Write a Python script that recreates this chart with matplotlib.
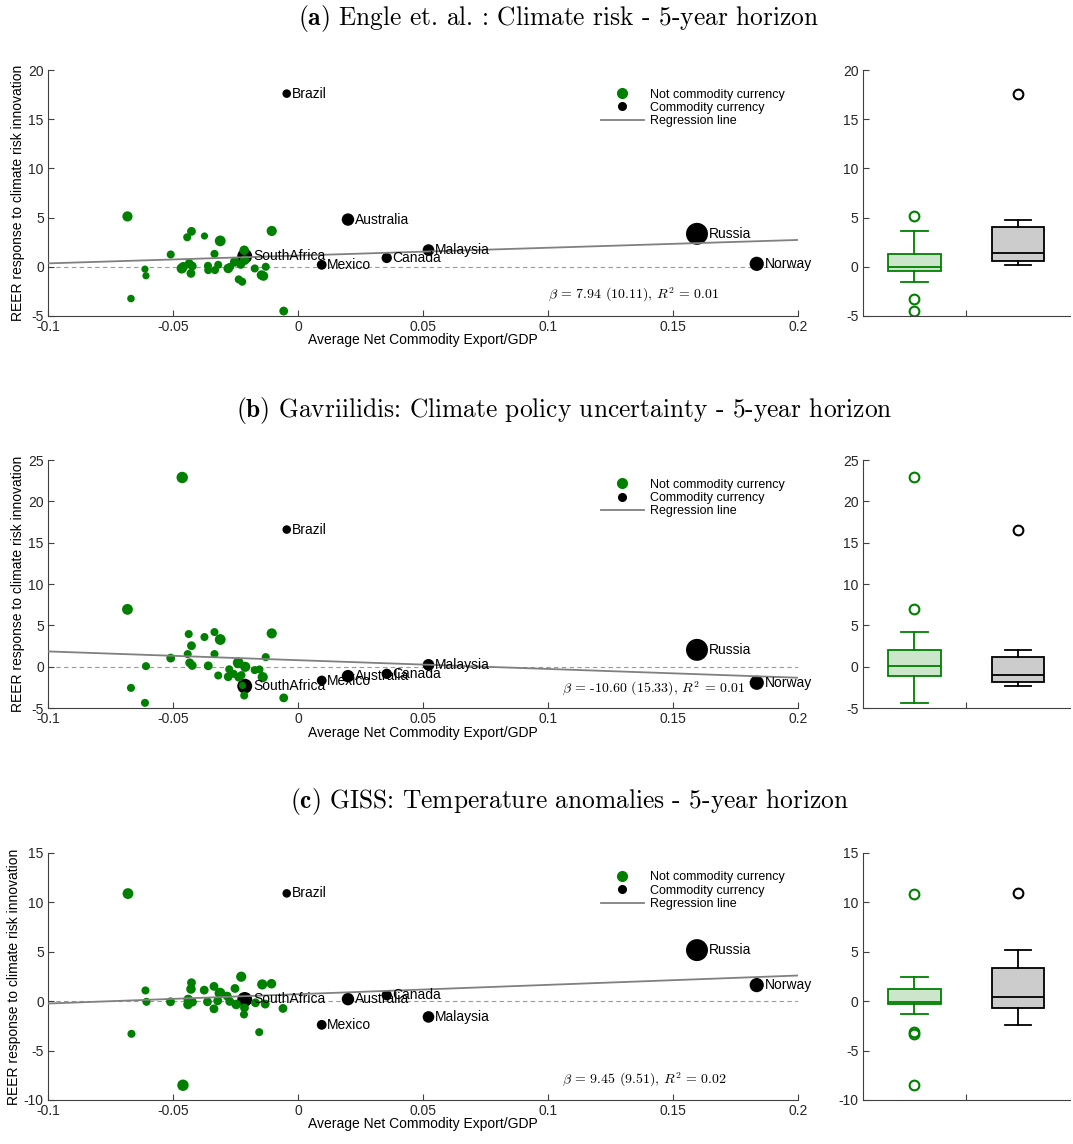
import numpy as np
import matplotlib
matplotlib.use('Agg')
import matplotlib.pyplot as plt
from matplotlib.lines import Line2D

plt.rcParams['font.family'] = ['Liberation Sans', 'DejaVu Sans']
plt.rcParams['mathtext.fontset'] = 'cm'
plt.rcParams['axes.unicode_minus'] = False

# commodity currencies (same x in every panel)
com_names = ['Brazil', 'SouthAfrica', 'Mexico', 'Australia', 'Canada', 'Malaysia', 'Russia', 'Norway']
com_x = [-0.0045, -0.0213, 0.0095, 0.0200, 0.0355, 0.0522, 0.1596, 0.1835]
com_s = [38, 115, 50, 80, 55, 70, 250, 105]

# (a) Engle et al.
a_com_y = [17.6, 1.08, 0.2, 4.8, 0.9, 1.7, 3.35, 0.3]
a_gx = [-0.0682, -0.0668, -0.0612, -0.0608, -0.0509, -0.0465, -0.0459, -0.0443, -0.0426, -0.0435, -0.0423,
        -0.0428, -0.0374, -0.0360, -0.0359, -0.0334, -0.0332, -0.0319, -0.0311, -0.0279, -0.0271, -0.0253,
        -0.0237, -0.0223, -0.0229, -0.0215, -0.0213, -0.0173, -0.0146, -0.0138, -0.0129, -0.0105, -0.0057]
a_gy = [5.12, -3.23, -0.24, -0.91, 1.25, -0.17, 0.0, 3.0, 3.6, 0.34, 0.07,
        -0.67, 3.13, 0.1, -0.34, 1.31, -0.34, 0.2, 2.63, -0.17, 0.0, 0.5,
        -1.28, -1.52, 0.24, 1.68, 0.67, -0.17, -0.84, -0.94, 0.0, 3.64, -4.5]
a_gs = [40, 22, 20, 20, 25, 40, 35, 25, 30, 30, 30,
        30, 20, 25, 25, 25, 25, 25, 45, 35, 25, 35,
        25, 25, 30, 35, 35, 25, 35, 35, 25, 40, 30]

# (b) Gavriilidis
b_com_y = [16.6, -2.34, -1.66, -1.13, -0.85, 0.24, 2.05, -1.93]
b_gx = [-0.0463, -0.0682, -0.0668, -0.0608, -0.0612, -0.0509, -0.0437, -0.0426, -0.0441, -0.0433, -0.0423,
        -0.0374, -0.0359, -0.0334, -0.0334, -0.0311, -0.0319, -0.0279, -0.0275, -0.0257, -0.0239, -0.0237,
        -0.0226, -0.0222, -0.0215, -0.0211, -0.0173, -0.0154, -0.0141, -0.0129, -0.0105, -0.0057]
b_gy = [22.9, 6.95, -2.55, 0.08, -4.36, 1.05, 3.96, 2.55, 1.54, 0.48, 0.16,
        3.6, 0.12, 4.2, 1.54, 3.3, -1.05, -1.2, -0.3, -0.85, 0.48, -1.25,
        -1.0, -2.26, -3.47, 0.0, -0.4, -0.32, -1.25, 1.17, 4.04, -3.76]
b_gs = [50, 45, 25, 25, 25, 30, 25, 30, 25, 30, 30,
        25, 30, 25, 25, 45, 25, 30, 25, 25, 45, 30,
        25, 20, 25, 40, 25, 25, 40, 25, 40, 30]

# (c) GISS
c_com_y = [10.9, 0.17, -2.4, 0.2, 0.6, -1.6, 5.16, 1.62]
c_gx = [-0.068, -0.0666, -0.061, -0.0606, -0.051, -0.046, -0.0426, -0.0428, -0.0439, -0.044,
        -0.0422, -0.0375, -0.0362, -0.0336, -0.0336, -0.0321, -0.0312, -0.0283, -0.0273, -0.0252,
        -0.0247, -0.0227, -0.0216, -0.0214, -0.017, -0.0155, -0.0143, -0.0131, -0.0106, -0.006]
c_gy = [10.88, -3.31, 1.08, -0.07, -0.07, -8.51, 1.86, 1.22, 0.17, -0.34,
        -0.1, 1.11, -0.07, 1.49, -0.78, 0.03, 0.81, 0.51, -0.03, 1.28,
        -0.34, 2.47, -1.35, -0.68, -0.17, -3.14, 1.69, -0.3, 1.76, -0.74]
c_gs = [45, 25, 25, 25, 30, 50, 30, 35, 35, 35,
        30, 30, 30, 30, 30, 30, 45, 30, 30, 30,
        35, 40, 25, 30, 30, 25, 40, 30, 35, 30]

titles = [r'$\mathbf{(a)}$ Engle et. al. : Climate risk - 5-year horizon',
          r'$\mathbf{(b)}$ Gavriilidis: Climate policy uncertainty - 5-year horizon',
          r'$\mathbf{(c)}$ GISS: Temperature anomalies - 5-year horizon']
betas = ['7.94', '-10.60', '9.45']
ses = ['10.11', '15.33', '9.51']
r2s = ['0.01', '0.01', '0.02']
slopes = [7.94, -10.60, 9.45]
intercepts = [1.14, 0.80, 0.70]
ylims = [(-5, 20), (-5, 25), (-10, 15)]
xticks = [-0.1, -0.05, 0, 0.05, 0.1, 0.15, 0.2]
xticklabels = ['-0.1', '-0.05', '0', '0.05', '0.1', '0.15', '0.2']

green = '#008000'
axcol = '#404040'

fig = plt.figure(figsize=(10.73, 11.44), dpi=100)
rows = [(0.7238, 0.215, 0.984), (0.381, 0.2168, 0.641), (0.0385, 0.216, 0.299)]
title_x = [0.520, 0.526, 0.531]
notes = [(0.667, 0.085), (0.686, 0.076), (0.686, 0.082)]

panels = [(a_gx, a_gy, a_gs, a_com_y), (b_gx, b_gy, b_gs, b_com_y), (c_gx, c_gy, c_gs, c_com_y)]


def style_axis(ax):
    for sp in ['top', 'right']:
        ax.spines[sp].set_visible(False)
    for sp in ['left', 'bottom']:
        ax.spines[sp].set_color(axcol)
        ax.spines[sp].set_linewidth(0.8)
    ax.tick_params(direction='in', length=4, colors=axcol, labelsize=10, labelcolor='#262626', pad=3)


# quartiles the way MATLAB's boxplot gets them (prctile, midpoint rule)
def box_stats(v):
    v = np.asarray(v)
    q1, med, q3 = np.percentile(v, [25, 50, 75], method='hazen')
    iqr = q3 - q1
    lo = v[v >= q1 - 1.5 * iqr].min()
    hi = v[v <= q3 + 1.5 * iqr].max()
    return dict(med=med, q1=q1, q3=q3, whislo=lo, whishi=hi, fliers=v[(v < lo) | (v > hi)])


for i, (gx, gy, gs, cy) in enumerate(panels):
    bottom, height, ty = rows[i]
    ax = fig.add_axes([0.0447, bottom, 0.699, height])
    bx = fig.add_axes([0.804, bottom, 0.193, height])

    # scatter
    ax.axhline(0, color='#999999', lw=0.8, ls=(0, (4, 3)), zorder=1)
    ax.scatter(com_x, cy, s=com_s, color='black', edgecolors='none', zorder=2)
    ax.scatter(gx, gy, s=np.array(gs) * 1.35, color=green, edgecolors='none', zorder=3)
    xl = np.array([-0.1, 0.2])
    ax.plot(xl, intercepts[i] + slopes[i] * xl, color='#808080', lw=1.3, zorder=4)
    for name, x, y, s in zip(com_names, com_x, cy, com_s):
        r = np.sqrt(s) / 2
        ax.annotate(name, (x, y), xytext=(r + 0.5, 0), textcoords='offset points',
                    ha='left', va='center', fontsize=10, zorder=5)
    ax.set_xlim(-0.1, 0.2)
    ax.set_ylim(*ylims[i])
    ax.set_xticks(xticks)
    ax.set_xticklabels(xticklabels)
    ax.set_yticks(np.arange(ylims[i][0], ylims[i][1] + 1, 5))
    style_axis(ax)
    ax.set_xlabel('Average Net Commodity Export/GDP', fontsize=10, labelpad=-0.5)
    ax.set_ylabel('REER response to climate risk innovation', fontsize=10, labelpad=2)
    ax.text(notes[i][0], notes[i][1],
            r'$\beta$ = ' + betas[i] + ' (' + ses[i] + '), $R^2$ = ' + r2s[i],
            transform=ax.transAxes, family='cmr10', fontsize=10, ha='left', va='center')
    handles = [Line2D([], [], ls='none', marker='o', color=green, ms=7),
               Line2D([], [], ls='none', marker='o', color='black', ms=5.5),
               Line2D([], [], color='#808080', lw=1.3)]
    ax.legend(handles, ['Not commodity currency', 'Commodity currency', 'Regression line'],
              loc='upper left', bbox_to_anchor=(0.726, 0.96), frameon=False, fontsize=9,
              handlelength=3.4, handletextpad=0.5, labelspacing=0.1, borderpad=0.2)

    fig.text(title_x[i], ty, titles[i], family='cmr10', fontsize=18.3, ha='center', va='center')

    # boxplots
    bp = bx.bxp([box_stats(gy), box_stats(cy)], positions=[1, 2], widths=0.51, patch_artist=True)
    for j, (ec, fc) in enumerate([(green, '#cce6cc'), ('black', '#cccccc')]):
        bp['boxes'][j].set(facecolor=fc, edgecolor=ec, linewidth=1.3)
        bp['medians'][j].set(color=ec, linewidth=1.3)
        for k in (2 * j, 2 * j + 1):
            bp['whiskers'][k].set(color=ec, linewidth=1.3)
            bp['caps'][k].set(color=ec, linewidth=1.3)
        bp['fliers'][j].set(marker='o', markerfacecolor='none', markeredgecolor=ec,
                            markersize=7, markeredgewidth=1.5)
    bx.set_xlim(0.5, 2.5)
    bx.set_ylim(*ylims[i])
    bx.set_yticks(np.arange(ylims[i][0], ylims[i][1] + 1, 5))
    bx.set_xticks([1.5])
    bx.set_xticklabels([''])
    style_axis(bx)

fig.savefig('out.png', dpi=100)
